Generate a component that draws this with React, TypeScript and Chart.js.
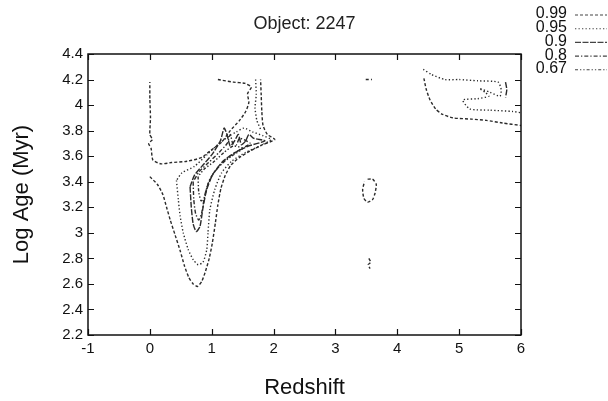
import React, { useEffect, useRef } from "react";
import { Chart, registerables } from "chart.js";

Chart.register(...registerables);

const chartTitle = "Object: 2247";
const xAxisTitle = "Redshift";
const yAxisTitle = "Log Age (Myr)";

const xTickValues = [-1, 0, 1, 2, 3, 4, 5, 6];
const xTickLabels = ["-1", "0", "1", "2", "3", "4", "5", "6"];
const yTickValues = [2.2, 2.4, 2.6, 2.8, 3.0, 3.2, 3.4, 3.6, 3.8, 4.0, 4.2, 4.4];
const yTickLabels = ["2.2", "2.4", "2.6", "2.8", "3", "3.2", "3.4", "3.6", "3.8", "4", "4.2", "4.4"];

const levelLabels = ["0.99", "0.95", "0.9", "0.8", "0.67"];

// contour paths: [redshift, log age]
const c99OuterV = [[0.0,3.44],[0.12,3.38],[0.21,3.3],[0.27,3.2],[0.33,3.1],[0.41,2.98],[0.49,2.86],[0.56,2.74],[0.63,2.65],[0.7,2.6],[0.77,2.58],[0.84,2.62],[0.9,2.7],[0.96,2.8],[1.01,2.92],[1.06,3.08],[1.1,3.22],[1.15,3.35],[1.22,3.45],[1.31,3.53],[1.45,3.59],[1.62,3.64],[1.82,3.69],[2.02,3.73],[1.9,3.77],[1.83,3.84],[1.81,3.95],[1.8,4.08],[1.79,4.2]];
const c99UpperLobe = [[1.1,4.2],[1.35,4.18],[1.54,4.17],[1.64,4.14],[1.58,4.09],[1.6,4.02],[1.55,3.95],[1.45,3.88],[1.3,3.8],[1.16,3.71],[0.97,3.64],[0.84,3.59],[0.6,3.56],[0.35,3.55],[0.18,3.54],[0.05,3.57],[0.02,3.66],[-0.02,3.7],[0.04,3.73],[0.0,3.77],[0.01,3.9],[0.0,4.05],[0.0,4.18]];
const c99Spot = [[3.52,3.42],[3.6,3.42],[3.66,3.38],[3.64,3.31],[3.6,3.26],[3.52,3.24],[3.46,3.27],[3.44,3.34],[3.47,3.4]];
const c99Speck = [[3.54,2.8],[3.57,2.77],[3.53,2.75],[3.56,2.72]];
const c99TopDash = [[3.49,4.2],[3.59,4.2]];
const c99RightOuter = [[4.43,4.21],[4.47,4.12],[4.53,4.04],[4.62,3.97],[4.72,3.93],[4.9,3.9],[5.2,3.89],[5.44,3.88],[5.7,3.86],[6.0,3.84]];

const c95V = [[0.43,3.41],[0.46,3.26],[0.49,3.13],[0.54,3.0],[0.62,2.87],[0.7,2.79],[0.78,2.75],[0.86,2.77],[0.92,2.87],[0.94,3.0],[0.97,3.18],[1.05,3.34],[1.16,3.47],[1.32,3.56],[1.55,3.63],[1.78,3.68],[1.96,3.73],[1.83,3.76],[1.66,3.79],[1.52,3.82],[1.4,3.79],[1.29,3.76],[1.12,3.7],[0.92,3.61],[0.72,3.52],[0.52,3.47],[0.43,3.41]];
const c95Ridge = [[1.71,4.2],[1.72,4.08],[1.7,3.98],[1.73,3.88],[1.8,3.8]];
const c95Right = [[4.42,4.28],[4.55,4.24],[4.77,4.2],[5.0,4.2],[5.3,4.19],[5.63,4.18],[5.68,4.12],[5.66,4.07],[5.5,4.1],[5.33,4.13],[5.42,4.1],[5.48,4.07],[5.3,4.05],[5.06,4.04],[5.17,3.97],[5.5,3.96],[5.87,3.95],[6.0,3.94]];

const c90Core = [[0.65,3.36],[0.67,3.2],[0.7,3.07],[0.75,3.01],[0.81,3.05],[0.86,3.2],[0.92,3.34],[1.02,3.46],[1.18,3.56],[1.38,3.63],[1.6,3.68],[1.86,3.72],[1.68,3.74],[1.6,3.77],[1.55,3.72],[1.48,3.69],[1.43,3.77],[1.37,3.72],[1.3,3.68],[1.24,3.78],[1.2,3.82],[1.14,3.72],[1.0,3.61],[0.84,3.52],[0.72,3.45],[0.65,3.36]];
const c90RightTick = [[5.75,4.18],[5.77,4.12],[5.75,4.06]];

const c80Core = [[0.7,3.4],[0.71,3.26],[0.74,3.15],[0.79,3.1],[0.84,3.16],[0.89,3.3],[0.97,3.42],[1.1,3.51],[1.27,3.59],[1.45,3.65],[1.62,3.7],[1.45,3.74],[1.4,3.69],[1.34,3.7],[1.3,3.77],[1.25,3.7],[1.12,3.63],[0.95,3.55],[0.8,3.48],[0.7,3.4]];

const c67Core = [[0.78,3.44],[0.79,3.32],[0.83,3.25],[0.88,3.27],[0.93,3.37],[1.02,3.46],[1.16,3.54],[1.32,3.6],[1.5,3.66],[1.35,3.68],[1.2,3.63],[1.02,3.55],[0.88,3.5],[0.78,3.44]];

const contourTable: { level: number; path: number[][] }[] = [
  { level: 0, path: c99OuterV },
  { level: 0, path: c99UpperLobe },
  { level: 0, path: c99Spot },
  { level: 0, path: c99Speck },
  { level: 0, path: c99TopDash },
  { level: 0, path: c99RightOuter },
  { level: 1, path: c95V },
  { level: 1, path: c95Ridge },
  { level: 1, path: c95Right },
  { level: 2, path: c90Core },
  { level: 2, path: c90RightTick },
  { level: 3, path: c80Core },
  { level: 4, path: c67Core },
];

const levelDashes = [[3, 2], [1.3, 2.2], [6, 1.5], [4, 2, 1.3, 2], [3, 2, 1.3, 2, 1.3, 2]];
const lineColor = "#2a2a2a";
const FONT = "'Liberation Sans', Arial, Helvetica, sans-serif";

const framePlugin = {
  id: "frameAndLegend",
  afterDraw(chart: any) {
    const { ctx, chartArea: a, scales } = chart;
    ctx.save();
    ctx.setLineDash([]);
    ctx.strokeStyle = "#111";
    ctx.lineWidth = 1.5;
    ctx.strokeRect(a.left, a.top, a.right - a.left, a.bottom - a.top);
    ctx.lineWidth = 1.2;
    const tl = 6;
    xTickValues.forEach((v) => {
      const px = Math.round(scales.x.getPixelForValue(v)) + 0.5;
      ctx.beginPath();
      ctx.moveTo(px, a.bottom);
      ctx.lineTo(px, a.bottom - tl);
      ctx.moveTo(px, a.top);
      ctx.lineTo(px, a.top + tl);
      ctx.stroke();
    });
    yTickValues.forEach((v) => {
      const py = Math.round(scales.y.getPixelForValue(v)) + 0.5;
      ctx.beginPath();
      ctx.moveTo(a.left, py);
      ctx.lineTo(a.left + tl, py);
      ctx.moveTo(a.right, py);
      ctx.lineTo(a.right - tl, py);
      ctx.stroke();
    });

    // legend (top right)
    ctx.font = `16px ${FONT}`;
    ctx.textAlign = "right";
    ctx.textBaseline = "middle";
    ctx.fillStyle = "#111";
    levelLabels.forEach((lab, i) => {
      const y = 14 + i * 13.7;
      ctx.fillText(lab, 567, y);
      ctx.setLineDash(levelDashes[i]);
      ctx.strokeStyle = "#444";
      ctx.lineWidth = 1.1;
      ctx.beginPath();
      ctx.moveTo(575, y + 1);
      ctx.lineTo(607, y + 1);
      ctx.stroke();
    });
    ctx.restore();
  },
};

export default function App() {
  const canvasRef = useRef<HTMLCanvasElement | null>(null);

  useEffect(() => {
    if (!canvasRef.current) return;
    const seen = new Set<number>();
    const datasets = contourTable.map(({ level, path }) => {
      const first = !seen.has(level);
      seen.add(level);
      return {
        label: first ? levelLabels[level] : "",
        data: path.map(([x, y]) => ({ x, y })),
        showLine: true,
        fill: false,
        borderColor: lineColor,
        borderWidth: 1.4,
        borderDash: levelDashes[level],
        pointRadius: 0,
        pointHoverRadius: 0,
        tension: 0.2,
      };
    });

    const chart = new Chart(canvasRef.current, {
      type: "scatter",
      data: { datasets },
      options: {
        animation: false,
        responsive: false,
        devicePixelRatio: 1,
        layout: { padding: { left: 0, right: 87, top: 0, bottom: 0 } },
        plugins: {
          legend: { display: false },
          tooltip: { enabled: false },
          title: {
            display: true,
            fullSize: false,
            text: chartTitle,
            color: "#222",
            font: { family: FONT, size: 18, weight: "normal" },
            padding: { top: 13, bottom: 19.4 },
          },
        },
        scales: {
          x: {
            type: "linear",
            min: -1,
            max: 6,
            afterFit: (s: any) => { s.height = 66; },
            afterBuildTicks: (s: any) => { s.ticks = xTickValues.map((v) => ({ value: v })); },
            ticks: {
              autoSkip: false,
              maxRotation: 0,
              padding: 5,
              color: "#111",
              font: { family: FONT, size: 15 },
              callback: (v: any) => {
                const i = xTickValues.findIndex((t) => Math.abs(t - v) < 1e-6);
                return i >= 0 ? xTickLabels[i] : "";
              },
            },
            grid: { display: false, drawTicks: false },
            border: { display: false },
            title: {
              display: true,
              text: xAxisTitle,
              color: "#111",
              font: { family: FONT, size: 22 },
              padding: { top: 0, bottom: 0 },
            },
          },
          y: {
            type: "linear",
            min: 2.2,
            max: 4.4,
            afterFit: (s: any) => { s.width = 88; },
            afterBuildTicks: (s: any) => { s.ticks = yTickValues.map((v) => ({ value: v })); },
            ticks: {
              autoSkip: false,
              padding: 5,
              color: "#111",
              font: { family: FONT, size: 15 },
              callback: (v: any) => {
                const i = yTickValues.findIndex((t) => Math.abs(t - v) < 1e-6);
                return i >= 0 ? yTickLabels[i] : "";
              },
            },
            grid: { display: false, drawTicks: false },
            border: { display: false },
            title: {
              display: true,
              text: yAxisTitle,
              color: "#111",
              font: { family: FONT, size: 22 },
              padding: { top: 9, bottom: 0 },
            },
          },
        },
      },
      plugins: [framePlugin],
    } as any);

    return () => chart.destroy();
  }, []);

  return (
    <div style={{ position: "fixed", left: 0, top: 0, width: 608, height: 401, background: "#fff" }}>
      <canvas ref={canvasRef} width={608} height={401} style={{ width: 608, height: 401 }} />
    </div>
  );
}
